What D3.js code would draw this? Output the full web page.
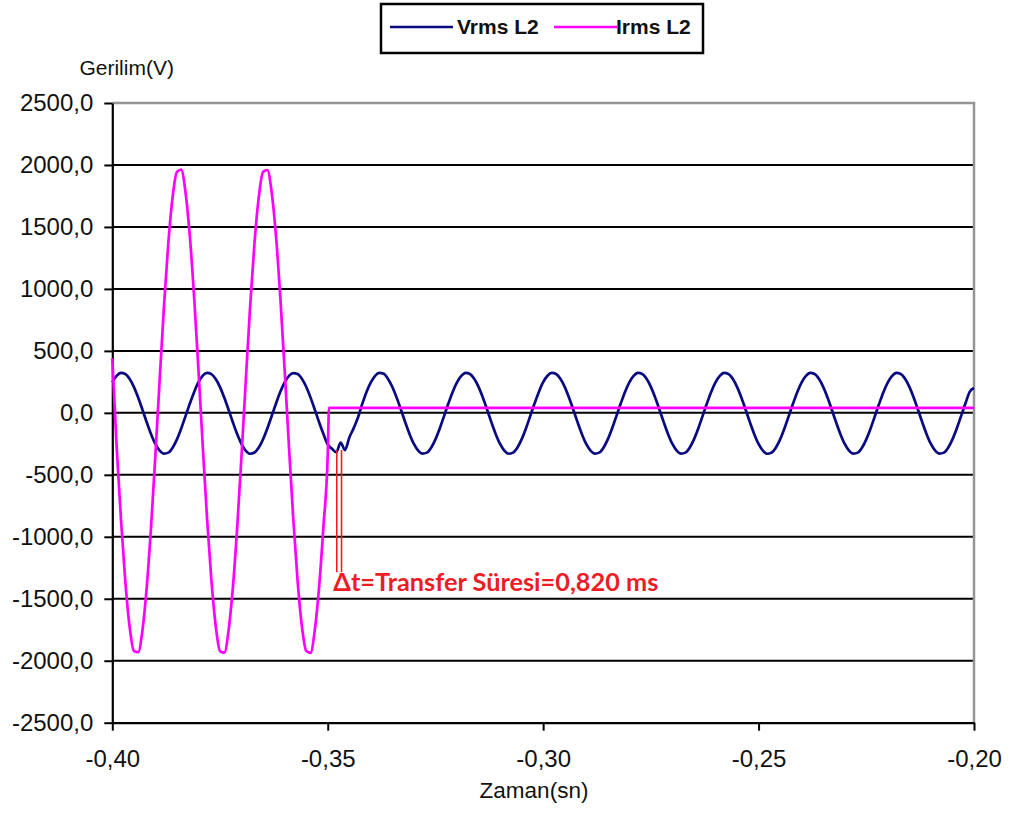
<!DOCTYPE html>
<html>
<head>
<meta charset="utf-8">
<script src="https://cdn.jsdelivr.net/npm/d3@7"></script>
<style>
  html, body { margin: 0; padding: 0; background: #fff; }
  svg { display: block; }
</style>
</head>
<body>
<svg id="chart" width="1010" height="816"></svg>
<script>
// ---------------- DATA ----------------
const xDomain = [-0.40, -0.20];
const yDomain = [-2500, 2500];
const xTicks = [-0.40, -0.35, -0.30, -0.25, -0.20];
const yTicks = [-2500, -2000, -1500, -1000, -500, 0, 500, 1000, 1500, 2000, 2500];
const gridValues = [-2000, -1500, -1000, -500, 0, 500, 1000, 1500, 2000];

const seriesNames = ["Vrms L2", "Irms L2"];

// sampling of the recorded waveforms
const sampleStart = -0.40;   // s
const sampleStep = 0.001;    // s

// Vrms L2 (V), one value per sample, t = -0.400 ... -0.200
const voltage = [
  246, 298, 322, 314, 275, 210, 124, 25, -77, -172, -251, -305, -329, -321, -281, -214, -126, -26, 75, 169,
  247, 300, 323, 313, 273, 208, 122, 24, -78, -173, -252, -306, -330, -320, -280, -213, -125, -25, 76, 170,
  246, 298, 321, 314, 276, 211, 125, 26, -76, -171, -255, -290, -318, -240, -300, -200, -125, -40, 70, 168,
  245, 299, 322, 315, 274, 209, 123, 25, -77, -172, -251, -305, -329, -321, -281, -214, -126, -26, 75, 169,
  246, 298, 323, 314, 275, 210, 124, 25, -77, -172, -251, -305, -330, -321, -281, -214, -126, -26, 75, 169,
  247, 299, 322, 313, 275, 210, 124, 25, -77, -172, -251, -305, -329, -321, -281, -214, -126, -26, 75, 169,
  246, 298, 322, 314, 275, 210, 124, 25, -77, -172, -251, -305, -329, -321, -281, -214, -126, -26, 75, 169,
  246, 298, 322, 314, 275, 210, 124, 25, -77, -172, -251, -305, -330, -321, -281, -214, -126, -26, 75, 169,
  246, 298, 322, 314, 275, 210, 124, 25, -77, -172, -251, -305, -329, -321, -281, -214, -126, -26, 75, 169,
  246, 298, 322, 314, 275, 210, 124, 25, -77, -172, -251, -305, -329, -321, -281, -214, -126, -26, 75, 169,
  200
];

// Irms L2 before the transfer, one value per sample, t = -0.400 ... -0.350
const current = [
  440, -268, -852, -1352, -1720, -1920, -1931, -1754, -1405, -918, -342, 271, 863, 1369, 1742, 1944, 1962, 1777, 1423, 930,
  346, -270, -855, -1350, -1718, -1922, -1935, -1752, -1405, -918, -342, 271, 863, 1369, 1742, 1944, 1958, 1777, 1423, 930,
  346, -268, -852, -1352, -1720, -1920, -1937, -1754, -1405, -918, -342
];
// Irms L2 after the transfer
const currentTailTime = [-0.3497, -0.20];
const currentTailValue = [40, 40];

// transfer time markers (s) and their vertical extent (value units)
const transferMarks = [-0.3479, -0.3468];
const transferMarkRange = [-300, -1286];
const transferLabel = "Δt=Transfer Süresi=0,820 ms";
const transferLabelPos = [-0.3487, -1434];

// ---------------- CHART ----------------
const svg = d3.select("#chart");
const x = d3.scaleLinear().domain(xDomain).range([112.3, 974]);
const y = d3.scaleLinear().domain(yDomain).range([722.7, 103]);

const locale = d3.formatLocale({decimal: ",", thousands: ".", grouping: [3], currency: ["", ""], minus: "-"});
const fy = locale.format(".1f");
const fx = locale.format(".2f");

// gridlines
svg.append("g").selectAll("line").data(gridValues).join("line")
  .attr("x1", x(xDomain[0])).attr("x2", x(xDomain[1]))
  .attr("y1", d => y(d)).attr("y2", d => y(d))
  .attr("stroke", "#000").attr("stroke-width", 2);

// plot border (top/right)
svg.append("path")
  .attr("d", `M${x(xDomain[0])},${y(yDomain[1])}H${x(xDomain[1])}V${y(yDomain[0])}`)
  .attr("fill", "none").attr("stroke", "#959595").attr("stroke-width", 2.5);

// axes
const yAxis = svg.append("g").attr("transform", `translate(${x(xDomain[0])},0)`)
  .call(d3.axisLeft(y).tickValues(yTicks).tickFormat(fy).tickSizeInner(8).tickSizeOuter(0).tickPadding(11));
const xAxis = svg.append("g").attr("transform", `translate(0,${y(yDomain[0])})`)
  .call(d3.axisBottom(x).tickValues(xTicks).tickFormat(fx).tickSizeInner(8).tickSizeOuter(0).tickPadding(19));
[yAxis, xAxis].forEach(a => {
  a.select(".domain").attr("stroke", "#000").attr("stroke-width", 2.2);
  a.selectAll(".tick line").attr("stroke", "#000").attr("stroke-width", 2);
  a.selectAll(".tick text").attr("font-family", "'Liberation Sans', Arial, sans-serif")
    .attr("font-size", 24).attr("fill", "#111");
});

// series lines
const vPoints = voltage.map((v, i) => [sampleStart + i * sampleStep, v]);
const iPoints = current.map((v, i) => [sampleStart + i * sampleStep, v])
  .concat(currentTailTime.map((t, i) => [t, currentTailValue[i]]));

const line = d3.line().x(d => x(d[0])).y(d => y(d[1])).curve(d3.curveMonotoneX);

svg.append("path").datum(vPoints).attr("d", line)
  .attr("fill", "none").attr("stroke", "#0a0a80").attr("stroke-width", 2.7).attr("stroke-linejoin", "round");
svg.append("path").datum(iPoints).attr("d", line)
  .attr("fill", "none").attr("stroke", "#ff00ff").attr("stroke-width", 2.7).attr("stroke-linejoin", "round");

// transfer annotation
svg.append("g").selectAll("line").data(transferMarks).join("line")
  .attr("x1", d => x(d)).attr("x2", d => x(d))
  .attr("y1", y(transferMarkRange[0])).attr("y2", y(transferMarkRange[1]))
  .attr("stroke", "#ee1c25").attr("stroke-width", 1.6);
svg.append("text")
  .attr("x", x(transferLabelPos[0])).attr("y", y(transferLabelPos[1]))
  .attr("font-family", "Lato, 'Open Sans', sans-serif").attr("font-weight", "bold")
  .attr("font-size", 24).attr("fill", "#ee1c25")
  .attr("textLength", 325).attr("lengthAdjust", "spacingAndGlyphs")
  .text(transferLabel);

// axis titles
svg.append("text").attr("x", 126.7).attr("y", 75).attr("text-anchor", "middle")
  .attr("font-family", "'Liberation Sans', Arial, sans-serif").attr("font-size", 21).attr("fill", "#111")
  .text("Gerilim(V)");
svg.append("text").attr("x", 534).attr("y", 798).attr("text-anchor", "middle")
  .attr("font-family", "'Liberation Sans', Arial, sans-serif").attr("font-size", 22.5).attr("fill", "#111")
  .text("Zaman(sn)");

// legend
const lg = svg.append("g");
lg.append("rect").attr("x", 381).attr("y", 4).attr("width", 322).attr("height", 49)
  .attr("fill", "#fff").attr("stroke", "#000").attr("stroke-width", 2.5);
const legendItems = [
  {name: seriesNames[0], color: "#0a0a80", x1: 390, x2: 453, tx: 457},
  {name: seriesNames[1], color: "#ff00ff", x1: 554, x2: 617, tx: 616}
];
legendItems.forEach(d => {
  lg.append("line").attr("x1", d.x1).attr("x2", d.x2).attr("y1", 27).attr("y2", 27)
    .attr("stroke", d.color).attr("stroke-width", 2.6);
  lg.append("text").attr("x", d.tx).attr("y", 34)
    .attr("font-family", "'Liberation Sans', Arial, sans-serif").attr("font-weight", "bold")
    .attr("font-size", 21).attr("fill", "#111").text(d.name);
});
</script>
</body>
</html>
